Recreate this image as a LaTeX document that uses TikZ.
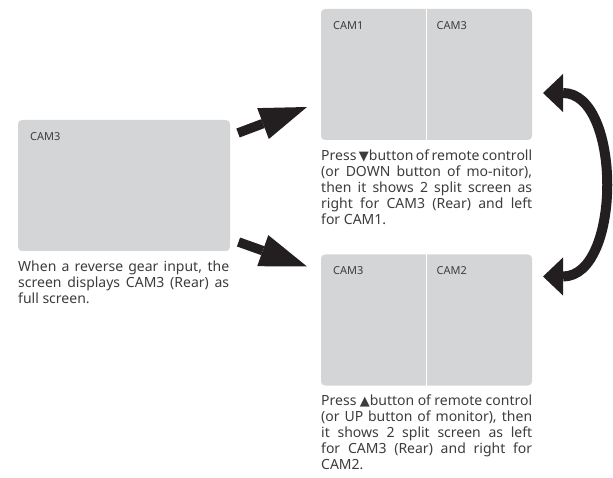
\documentclass[tikz,border=0pt]{standalone}
\usepackage{fontspec}
\setmainfont{Noto Sans}
\newfontfamily\symfont{DejaVu Sans}
\usetikzlibrary{positioning,arrows.meta,calc}
\definecolor{screengray}{HTML}{D4D5D7}
\definecolor{textgray}{HTML}{3C3C3C}
\definecolor{arrowblack}{HTML}{231F20}
\hyphenpenalty=10000
\exhyphenpenalty=10000

\begin{document}
\begin{tikzpicture}[
  x=1pt, y=-1pt,
  every node/.style={text=textgray},
  screen/.style={fill=screengray, rounded corners=4pt, minimum width=211pt, minimum height=131pt, inner sep=0pt, outer sep=0pt},
  cam/.style={font=\fontsize{11}{12}\selectfont, inner sep=0pt},
  caption/.style={text width=211pt, align=justify, inner sep=0pt, font=\fontsize{14}{16}\selectfont},
  divider/.style={white, line width=1pt},
  bigarrow/.style={arrowblack, line width=9.5pt, -{Triangle[length=47pt, width=33pt, line width=0pt]}},
  swaparrow/.style={arrowblack, line width=10pt, {Triangle[length=20pt, width=38pt, line width=0pt]}-{Triangle[length=20pt, width=38pt, line width=0pt]}}
]
\useasboundingbox (0,0) rectangle (613,478);

% screens
\node[screen, minimum width=212pt] (full) at (124,185.5) {};
\node[screen] (split1) at (426.5,74.5) {};
\node[screen] (split2) at (426.5,320) {};
\draw[divider] (split1.north) -- (split1.south);
\draw[divider] (split2.north) -- (split2.south);

\node[cam, below right=12pt and 12pt of full.north west] (fullcam) {CAM3};
\node[cam, below right=12pt and 12pt of split1.north west] (cam1) {CAM1};
\node[cam, below right=12pt and 10pt of split1.north] (cam3a) {CAM3};
\node[cam, below right=12pt and 12pt of split2.north west] (cam3b) {CAM3};
\node[cam, below right=12pt and 10pt of split2.north] (cam2) {CAM2};

% captions
\node[caption, below right=9.5pt and 0pt of full.south west] (fulltext) {When a reverse gear input, the\linebreak screen displays CAM3 (Rear) as\linebreak full screen.};
\node[caption, below right=9.5pt and 0pt of split1.south west] (split1text) {Press {\symfont\fontsize{13}{16}\selectfont ▼}button of remote controll\linebreak (or DOWN button of mo-nitor),\linebreak then it shows 2 split screen as\linebreak right for CAM3 (Rear) and left\linebreak for CAM1.};
\node[caption, below right=9.5pt and 0pt of split2.south west] (split2text) {Press {\symfont\fontsize{13}{16}\selectfont ▲}button of remote control\linebreak (or UP button of monitor), then\linebreak it shows 2 split screen as left\linebreak for CAM3 (Rear) and right for\linebreak CAM2.};

% arrows
\draw[bigarrow] ($(full.north east)+(8,13)$) -- ($(split1.south west)+(-14,-33)$);
\draw[bigarrow] ($(full.south east)+(8.5,-9)$) -- ($(split2.north west)+(-14,12)$);
\draw[swaparrow] ($(split1.east)+(11,18.5)$) .. controls +(79,0) and +(79,0) .. ($(split2.north east)+(11,22)$);
\end{tikzpicture}
\end{document}
